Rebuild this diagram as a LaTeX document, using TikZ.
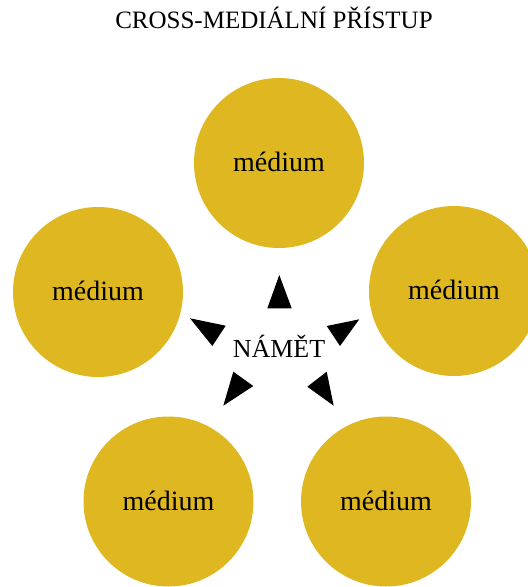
\documentclass[tikz,border=0pt]{standalone}
\usepackage{fontspec}
\setmainfont{Liberation Serif}
\definecolor{gold}{HTML}{DFB821}
\tikzset{
  medium/.style={circle, fill=gold, minimum size=170pt, inner sep=0pt},
  lbl/.style={font=\fontsize{26}{30}\selectfont, anchor=base, inner sep=0pt},
  tri/.style={fill=black}
}
\begin{document}
\begin{tikzpicture}[x=1pt,y=-1pt]
\useasboundingbox (0,0) rectangle (528,587);
\node[lbl, font=\fontsize{25}{29}\selectfont] (title) at (274,28) {CROSS-MEDIÁLNÍ PŘÍSTUP};
\node[medium] (top) at (279,163) {};
\node[medium] (left) at (98,292) {};
\node[medium] (right) at (454,291) {};
\node[medium] (bl) at (168.5,501.5) {};
\node[medium] (br) at (386,501.5) {};
\foreach \n in {top,left,right,bl,br}{
  \node[lbl, font=\fontsize{28}{32}\selectfont] (\n-t) at ([yshift=-8.5pt]\n.center) {médium};
}
\node[lbl] (namet) at (279,357.5) {NÁMĚT};
\fill[tri] (279.3,275) -- (267.3,308.3) -- (291.7,308.3) -- cycle;
\fill[tri] (190,318.3) -- (225.7,325.7) -- (212.3,346) -- cycle;
\fill[tri] (359.3,319.3) -- (326.7,326) -- (340,346) -- cycle;
\fill[tri] (223.3,405.7) -- (233.3,371.7) -- (253.3,386) -- cycle;
\fill[tri] (333.7,405.7) -- (326.7,371.7) -- (307.3,386.7) -- cycle;
\end{tikzpicture}
\end{document}
